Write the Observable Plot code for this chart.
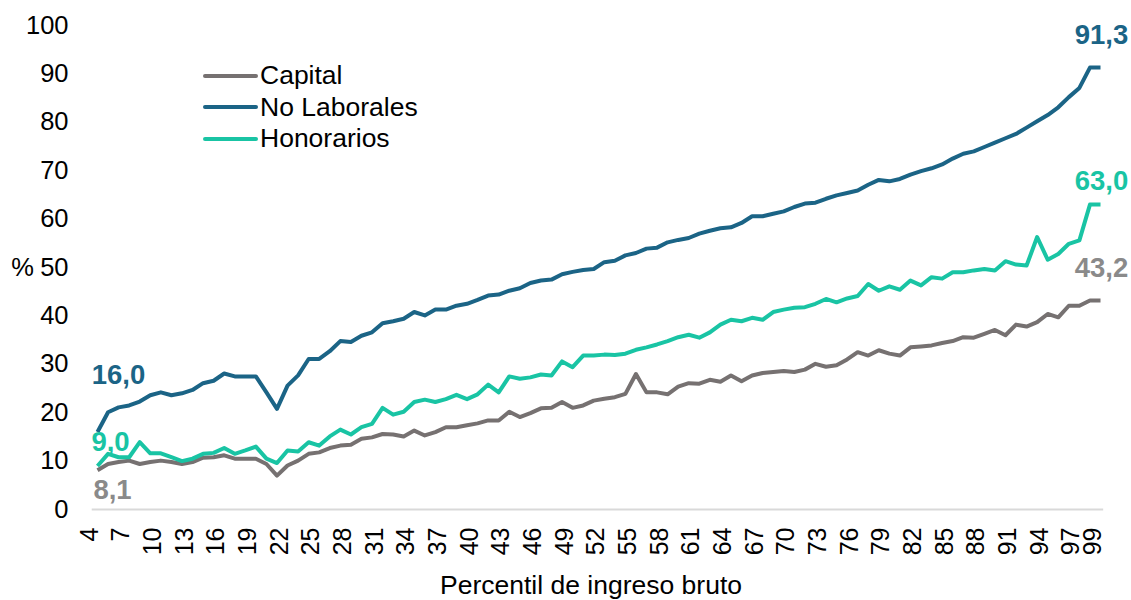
<!DOCTYPE html>
<html>
<head>
<meta charset="utf-8">
<script src="https://cdn.jsdelivr.net/npm/d3@7"></script>
<script src="https://cdn.jsdelivr.net/npm/@observablehq/plot@0.6"></script>
<style>
  html, body { margin: 0; padding: 0; background: #fff; }
  #wrap { position: relative; width: 1131px; height: 600px; font-family: "Liberation Sans", Arial, sans-serif; }
  #legend { position: absolute; left: 203px; top: 60px; }
  .row { display: flex; align-items: center; height: 31.5px; font-size: 26.5px; color: #000; }
  .sw { width: 55px; height: 4px; border-radius: 2px; margin-right: 2px; }
</style>
</head>
<body>
<div id="wrap"><div id="legend"></div></div>
<script>
// Categories: percentil de ingreso bruto
const percentiles = d3.range(4, 100);
const xTicks = [4, 7, 10, 13, 16, 19, 22, 25, 28, 31, 34, 37, 40, 43, 46, 49, 52, 55, 58, 61, 64, 67, 70, 73, 76, 79, 82, 85, 88, 91, 94, 97, 99];
const yTicks = [0, 10, 20, 30, 40, 50, 60, 70, 80, 90, 100];

const seriesNames = ["Capital", "No Laborales", "Honorarios"];
const seriesColors = ["#767171", "#1b6486", "#19c4a4"];
const labelColors = ["#8a8a8a", "#1b6486", "#19c4a4"];

const capital = [
  8.1, 9.4, 9.8, 10.1, 9.4, 9.8, 10.1, 9.8, 9.4, 9.8,
  10.7, 10.8, 11.2, 10.5, 10.5, 10.5, 9.4, 7.0, 9.1, 10.1,
  11.5, 11.8, 12.7, 13.2, 13.4, 14.6, 14.9, 15.6, 15.5, 15.1,
  16.3, 15.3, 16.0, 17.0, 17.0, 17.4, 17.8, 18.4, 18.4, 20.2,
  19.1, 19.9, 20.9, 21.0, 22.2, 21.0, 21.5, 22.5, 22.9, 23.2,
  23.9, 28.0, 24.2, 24.2, 23.8, 25.4, 26.1, 26.0, 26.8, 26.4,
  27.7, 26.5, 27.7, 28.2, 28.4, 28.6, 28.4, 28.9, 30.1, 29.5,
  29.8, 31.0, 32.5, 31.8, 32.9, 32.2, 31.8, 33.5, 33.7, 33.9,
  34.4, 34.8, 35.6, 35.5, 36.3, 37.1, 36.0, 38.2, 37.8, 38.7,
  40.4, 39.7, 42.1, 42.1, 43.2, 43.2
];
const noLaborales = [
  16.0, 20.1, 21.1, 21.5, 22.3, 23.6, 24.2, 23.6, 24.0, 24.7,
  26.1, 26.6, 28.1, 27.5, 27.5, 27.5, 24.2, 20.8, 25.6, 27.7,
  31.1, 31.1, 32.7, 34.8, 34.6, 35.9, 36.6, 38.5, 38.9, 39.4,
  40.8, 40.1, 41.3, 41.3, 42.1, 42.5, 43.3, 44.2, 44.4, 45.2,
  45.7, 46.8, 47.3, 47.5, 48.6, 49.1, 49.5, 49.7, 51.1, 51.4,
  52.5, 53.0, 53.9, 54.1, 55.2, 55.7, 56.1, 57.0, 57.6, 58.1,
  58.3, 59.2, 60.6, 60.6, 61.1, 61.6, 62.5, 63.2, 63.4, 64.2,
  64.9, 65.4, 65.9, 67.1, 68.1, 67.8, 68.3, 69.2, 69.9, 70.5,
  71.3, 72.5, 73.5, 74.0, 74.9, 75.8, 76.7, 77.6, 78.9, 80.2,
  81.5, 83.1, 85.2, 87.1, 91.3, 91.3
];
const honorarios = [
  9.0, 11.5, 10.8, 10.8, 13.9, 11.6, 11.6, 10.8, 10.0, 10.5,
  11.5, 11.7, 12.7, 11.5, 12.2, 13.0, 10.5, 9.6, 12.2, 12.0,
  13.9, 13.2, 15.1, 16.5, 15.5, 17.0, 17.7, 21.0, 19.6, 20.2,
  22.2, 22.7, 22.2, 22.8, 23.7, 22.8, 23.8, 25.8, 24.2, 27.5,
  27.0, 27.3, 27.9, 27.7, 30.6, 29.4, 31.8, 31.8, 32.0, 31.9,
  32.2, 33.0, 33.5, 34.1, 34.8, 35.6, 36.1, 35.5, 36.6, 38.2,
  39.2, 38.9, 39.6, 39.2, 40.8, 41.3, 41.7, 41.8, 42.5, 43.5,
  42.8, 43.6, 44.1, 46.6, 45.2, 46.1, 45.4, 47.3, 46.3, 48.0,
  47.7, 49.0, 49.0, 49.4, 49.7, 49.4, 51.3, 50.6, 50.4, 56.3,
  51.6, 52.8, 54.9, 55.6, 63.0, 63.0
];

const seriesValues = [capital, noLaborales, honorarios];
const rows = seriesNames.flatMap((name, i) =>
  percentiles.map((p, j) => ({ name, p, v: seriesValues[i][j] }))
);
const fmt = v => v.toFixed(1).replace(".", ",");
const FONT = "Liberation Sans, Arial, sans-serif";

function endLabel(i, which, dx, dy) {
  const vals = seriesValues[i];
  const j = which === "first" ? 0 : vals.length - 1;
  const d = [{ p: percentiles[j], v: vals[j] }];
  return Plot.text(d, {
    x: "p", y: "v", text: d => fmt(d.v),
    fill: labelColors[i], fontWeight: "bold", fontSize: 27.5,
    fontFamily: FONT, dx, dy, textAnchor: "middle"
  });
}

const chart = Plot.plot({
  width: 1131,
  height: 600,
  marginLeft: 97,
  marginRight: 31,
  marginTop: 25,
  marginBottom: 91,
  style: { fontFamily: FONT, fontSize: "25px", color: "#000", background: "#fff" },
  x: { type: "linear", domain: [4, 99], axis: null },
  y: { domain: [0, 100], axis: null },
  color: { domain: seriesNames, range: seriesColors },
  marks: [
    Plot.ruleY([0], { x1: 3.5, x2: 99.3, stroke: "#d9d9d9", strokeWidth: 2 }),
    // y tick labels
    Plot.text(yTicks, { y: d => d, text: d => String(d), frameAnchor: "left", textAnchor: "end", dx: -29, fontSize: 25.5, fontFamily: FONT, fill: "#000" }),
    // x tick labels, rotated (reading bottom-to-top)
    Plot.text(xTicks, { x: d => d, text: d => String(d), frameAnchor: "bottom", rotate: -90, textAnchor: "end", dy: 18, fontSize: 25, fontFamily: FONT, fill: "#000" }),
    Plot.text(["%"], { frameAnchor: "left", textAnchor: "middle", dx: -75, fontSize: 25.5, fontFamily: FONT, fill: "#000" }),
    Plot.text(["Percentil de ingreso bruto"], { frameAnchor: "bottom", textAnchor: "middle", dx: -8, dy: 84, fontSize: 26.5, fontFamily: FONT, fill: "#000" }),
    Plot.lineY(rows, { x: "p", y: "v", z: "name", stroke: "name", strokeWidth: 4, strokeLinejoin: "round", strokeLinecap: "butt" }),
    endLabel(1, "first", 21, -57),
    endLabel(2, "first", 13, -24),
    endLabel(0, "first", 15, 20),
    endLabel(1, "last", 1, -32),
    endLabel(2, "last", 1, -23),
    endLabel(0, "last", 1, -32)
  ]
});

const wrap = document.getElementById("wrap");
wrap.insertBefore(chart, wrap.firstChild);

const legend = document.getElementById("legend");
seriesNames.forEach((name, i) => {
  const row = document.createElement("div");
  row.className = "row";
  const sw = document.createElement("div");
  sw.className = "sw";
  sw.style.background = seriesColors[i];
  const t = document.createElement("span");
  t.textContent = name;
  row.appendChild(sw);
  row.appendChild(t);
  legend.appendChild(row);
});
</script>
</body>
</html>
